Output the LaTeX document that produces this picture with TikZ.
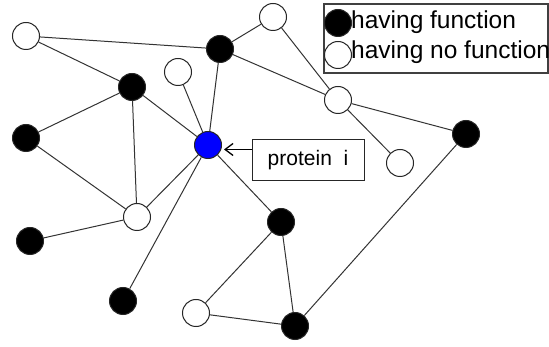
\documentclass[tikz,border=0pt]{standalone}
\usepackage{fontspec}
\setmainfont{Liberation Sans}
\usetikzlibrary{arrows.meta}
\tikzset{
	prot/.style={circle, draw=black!85, line width=1pt, minimum size=27pt, inner sep=0pt},
	fun/.style={prot, fill=black},
	nofun/.style={prot, fill=white},
	query/.style={prot, fill=blue},
	link/.style={draw=black!80, line width=1pt}
}
\begin{document}
\begin{tikzpicture}[x=1pt,y=-1pt]
			\useasboundingbox (0,0) rectangle (549,347);
			% the proteins
			\foreach \n/\x/\y in {b1/220/49, b2/132/87, b3/26/138, b4/466/134,
				b5/30/241, b6/281/222, b7/123/301, b8/295/326}
			{\node[fun] (\n) at (\x,\y) {}; }
			\foreach \n/\x/\y in {w1/26/36, w2/273/17, w3/178/72, w4/338/100,
				w5/400/163, w6/137/217, w7/196/313}
			{\node[nofun] (\n) at (\x,\y) {}; }
			\node[query] (pi) at (208,145) {};
			% interactions
			\foreach \a/\b in {w1/b1, w1/b2, b1/w2, b1/w4, w2/w4, b1/pi, w3/pi,
				b2/pi, b2/b3, b2/w6, b3/w6, pi/w6, pi/b7, pi/b6, w6/b5, w4/w5,
				w4/b4, b4/b8, b6/w7, b6/b8, w7/b8}
			{\draw[link] (\a) -- (\b); }
			% label of protein i
			\node[draw=black!85, line width=1pt, minimum width=112pt, minimum height=41pt,
				font=\fontsize{21}{24}\selectfont] (lab) at (308,160.5) {protein~~i};
			\coordinate (labin) at ([yshift=11pt]lab.west);
			\draw[line width=1.3pt, -{Straight Barb[length=8pt,width=12pt,line width=1.3pt]}]
				(labin) -- ([xshift=2pt]pi.east |- labin);
			% legend
			\node[draw=black!75, line width=1.5pt, minimum width=224pt, minimum height=69pt]
				(leg) at (436,38.5) {};
			\node[fun] (lfun) at (338,23) {};
			\node[nofun] (lnofun) at (338,55) {};
			\node[anchor=west, inner sep=0pt, font=\fontsize{24.5}{27}\selectfont]
				(tfun) at (351,22) {having function};
			\node[anchor=west, inner sep=0pt, font=\fontsize{24.5}{27}\selectfont]
				(tnofun) at (351,52) {having no function};
		\end{tikzpicture}
\end{document}
